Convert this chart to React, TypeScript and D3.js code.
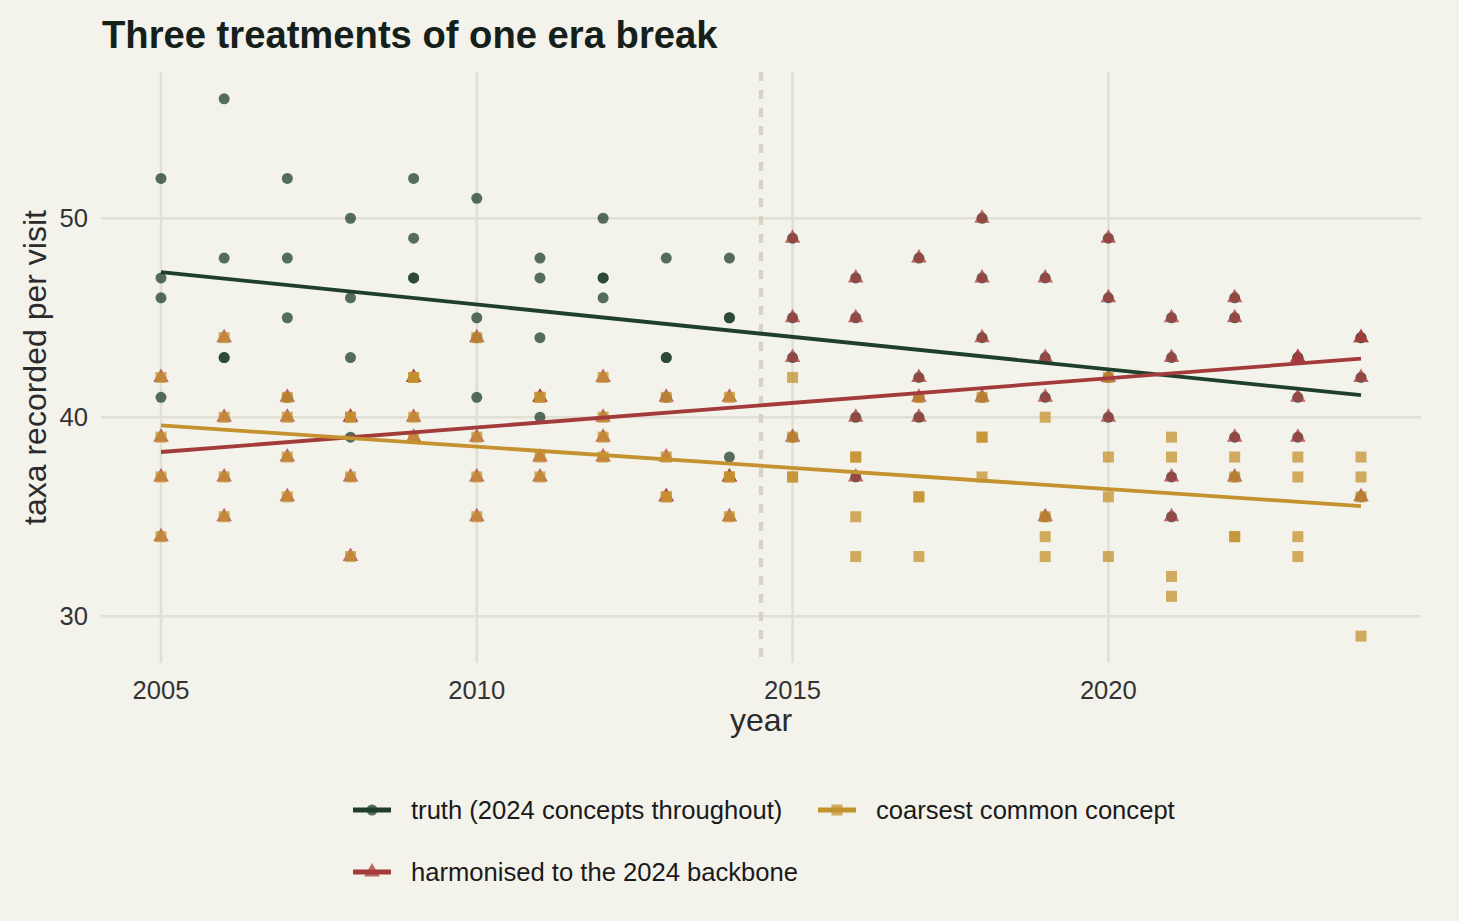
import * as d3 from 'd3';
import React from 'react';

const years = d3.range(2005, 2025);
const eraBreak = 2014.5;

// four visits per year
const truth = [
  [52, 47, 46, 41], [56, 48, 43, 43], [52, 48, 45, 41], [50, 46, 43, 39],
  [52, 49, 47, 47], [51, 45, 44, 41], [48, 47, 44, 40], [50, 47, 47, 46],
  [48, 43, 43, 41], [48, 45, 45, 38], [49, 45, 43, 39], [47, 45, 40, 37],
  [48, 42, 41, 40], [50, 47, 44, 41], [47, 43, 41, 35], [49, 46, 42, 40],
  [45, 43, 37, 35], [46, 45, 39, 37], [43, 43, 41, 39], [44, 44, 42, 36],
];
const harmonised = [
  [42, 39, 37, 34], [44, 40, 37, 35], [41, 40, 38, 36], [40, 40, 37, 33],
  [42, 42, 40, 39], [44, 39, 37, 35], [41, 41, 38, 37], [42, 40, 39, 38],
  [41, 38, 36, 36], [41, 37, 37, 35], [49, 45, 43, 39], [47, 45, 40, 37],
  [48, 42, 41, 40], [50, 47, 44, 41], [47, 43, 41, 35], [49, 46, 42, 40],
  [45, 43, 37, 35], [46, 45, 39, 37], [43, 43, 41, 39], [44, 44, 42, 36],
];
const coarsest = [
  [42, 39, 37, 34], [44, 40, 37, 35], [41, 40, 38, 36], [40, 40, 37, 33],
  [42, 42, 40, 39], [44, 39, 37, 35], [41, 41, 38, 37], [42, 40, 39, 38],
  [41, 38, 36, 36], [41, 37, 37, 35], [42, 39, 37, 37], [38, 38, 35, 33],
  [41, 36, 36, 33], [41, 39, 39, 37], [40, 35, 34, 33], [42, 38, 36, 33],
  [39, 38, 32, 31], [38, 37, 34, 34], [38, 37, 34, 33], [38, 37, 36, 29],
];

const xTicks = [2005, 2010, 2015, 2020];
const yTicks = [30, 40, 50];

const series = [
  { name: 'truth (2024 concepts throughout)', values: truth, line: '#1f3f2c', point: '#1f3f2c', shape: d3.symbolCircle, size: 95 },
  { name: 'harmonised to the 2024 backbone', values: harmonised, line: '#a33b3b', point: '#a83c3c', shape: d3.symbolTriangle, size: 105 },
  { name: 'coarsest common concept', values: coarsest, line: '#c4922f', point: '#c4922f', shape: d3.symbolSquare, size: 121 },
];

const W = 1459;
const H = 921;
const font = '"Liberation Sans", Arial, Helvetica, sans-serif';

function flatten(vals: number[][]) {
  return vals.flatMap((v, i) => v.map(value => ({ year: years[i], value })));
}

// ordinary least squares over every visit
function fit(pts: { year: number; value: number }[]) {
  const mx = d3.mean(pts, p => p.year)!;
  const my = d3.mean(pts, p => p.value)!;
  const sxy = d3.sum(pts, p => (p.year - mx) * (p.value - my));
  const sxx = d3.sum(pts, p => (p.year - mx) ** 2);
  const b = sxy / sxx;
  return (t: number) => my + b * (t - mx);
}

export default function App() {
  const all = series.flatMap(s => flatten(s.values));
  const [x0, x1] = d3.extent(years) as [number, number];
  const [y0, y1] = d3.extent(all, d => d.value) as [number, number];
  const px = (x1 - x0) * 0.05;
  const py = (y1 - y0) * 0.05;

  const x = d3.scaleLinear().domain([x0 - px, x1 + px]).range([101, 1421]);
  const y = d3.scaleLinear().domain([y0 - py, y1 + py]).range([663, 72]);

  const line = d3.line<number>().x(t => x(t));

  return (
    <div style={{ position: 'fixed', left: 0, top: 0 }}>
      <svg width={W} height={H} style={{ display: 'block', background: '#f3f2eb', fontFamily: font }}>
        <rect width={W} height={H} fill="#f3f2eb" />

        {/* grid */}
        {yTicks.map(t => (
          <line key={'gy' + t} x1={101} x2={1421} y1={y(t)} y2={y(t)} stroke="#e1e0d4" strokeWidth={2.6} />
        ))}
        {xTicks.map(t => (
          <line key={'gx' + t} x1={x(t)} x2={x(t)} y1={72} y2={663} stroke="#e1e0d4" strokeWidth={2.6} />
        ))}
        <line x1={x(eraBreak)} x2={x(eraBreak)} y1={72} y2={663} stroke="#d5d4c3" strokeWidth={4.2} strokeDasharray="9,9" />

        {/* points */}
        {series.map(s => {
          const sym = d3.symbol().type(s.shape).size(s.size)();
          return (
            <g key={s.name} fill={s.point} fillOpacity={0.75}>
              {flatten(s.values).map((p, i) => (
                <path key={i} d={sym!} transform={`translate(${x(p.year)},${y(p.value)})`} />
              ))}
            </g>
          );
        })}

        {/* fitted lines */}
        {series.map(s => {
          const f = fit(flatten(s.values));
          return (
            <path
              key={'l' + s.name}
              d={line.y(t => y(f(t)))([x0, x1])!}
              fill="none"
              stroke={s.line}
              strokeWidth={3.8}
            />
          );
        })}

        {/* axes text */}
        {xTicks.map(t => (
          <text key={'tx' + t} x={x(t)} y={699} textAnchor="middle" fontSize={25.6} fill="#333333">
            {t}
          </text>
        ))}
        {yTicks.map(t => (
          <text key={'ty' + t} x={88} y={y(t)} dy="0.35em" textAnchor="end" fontSize={25.6} fill="#333333">
            {t}
          </text>
        ))}
        <text x={761} y={731} textAnchor="middle" fontSize={32} fill="#2b2b2b">
          year
        </text>
        <text transform={`translate(46,${(72 + 663) / 2}) rotate(-90)`} textAnchor="middle" fontSize={32} fill="#2b2b2b">
          taxa recorded per visit
        </text>

        <text x={102} y={48} fontSize={38.2} fontWeight="bold" fill="#15201a">
          Three treatments of one era break
        </text>

        {/* legend */}
        {[
          { s: series[0], kx: 353, ky: 810 },
          { s: series[2], kx: 818, ky: 810 },
          { s: series[1], kx: 353, ky: 872 },
        ].map(({ s, kx, ky }) => {
          const sym = d3.symbol().type(s.shape).size(s.size)();
          return (
            <g key={'k' + s.name}>
              <line x1={kx} x2={kx + 38} y1={ky} y2={ky} stroke={s.line} strokeWidth={4.8} />
              <path d={sym!} transform={`translate(${kx + 19},${ky})`} fill={s.point} fillOpacity={0.75} />
              <text x={kx + 58} y={ky} dy="0.35em" fontSize={25.6} fill="#1a1a1a">
                {s.name}
              </text>
            </g>
          );
        })}
      </svg>
    </div>
  );
}
